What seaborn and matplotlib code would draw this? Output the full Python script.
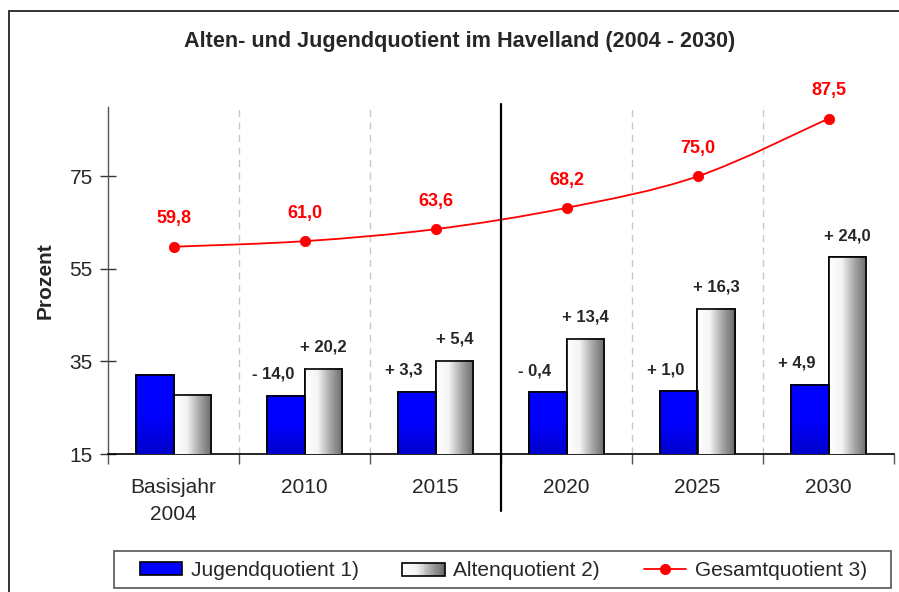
import numpy as np
import pandas as pd
import matplotlib
matplotlib.use('Agg')
import matplotlib.pyplot as plt
import seaborn as sns
from matplotlib.colors import LinearSegmentedColormap
from matplotlib.patches import Rectangle, PathPatch, Patch
from matplotlib.path import Path
from matplotlib.lines import Line2D
from matplotlib.legend_handler import HandlerBase
import matplotlib.transforms as mtransforms


# Data
categories = ['Basisjahr\n2004', '2010', '2015', '2020', '2025', '2030']
jugend = [32.0, 27.6, 28.4, 28.3, 28.6, 30.0]
alten = [27.8, 33.4, 35.2, 39.9, 46.4, 57.5]
gesamt = [59.8, 61.0, 63.6, 68.2, 75.0, 87.5]
jugend_change = [None, '- 14,0', '+ 3,3', '- 0,4', '+ 1,0', '+ 4,9']
alten_change = [None, '+ 20,2', '+ 5,4', '+ 13,4', '+ 16,3', '+ 24,0']
y_ticks = [15, 35, 55, 75]

W, H = 899, 592

sns.set_style('white')
plt.rcParams['font.family'] = ['Liberation Sans', 'DejaVu Sans']

fig = plt.figure(figsize=(W / 100, H / 100), dpi=100)
ax = fig.add_axes([108 / W, (H - 454) / H, (894 - 108) / W, (454 - 107) / H])

df = pd.DataFrame({
    'Jahr': categories * 2,
    'Quotient': ['Jugend'] * 6 + ['Alten'] * 6,
    'Wert': jugend + alten,
})

sns.barplot(data=df, x='Jahr', y='Wert', hue='Quotient', order=categories,
            hue_order=['Jugend', 'Alten'], palette=['#0000ff', '#bbbbbb'],
            width=0.58, gap=0, edgecolor='black', linewidth=1.2,
            legend=False, ax=ax, zorder=3)

ax.set_xlim(-0.5, 5.5)
ax.set_ylim(15, 90)

# gradient fills for the bars
grey_cmap = LinearSegmentedColormap.from_list('grey', ['#ffffff', '#f4f4f4', '#a8a8a8', '#6a6a6a'])
blue_cmap = LinearSegmentedColormap.from_list('blue', ['#0000cc', '#0000ff', '#0000ff'])
n = len(categories)
for i, bar in enumerate(ax.patches[:2 * n]):
    x0, w, h = bar.get_x(), bar.get_width(), bar.get_height()
    if i < n:
        grad = np.linspace(0, 1, 64).reshape(-1, 1)
        ax.imshow(grad, cmap=blue_cmap, origin='lower', aspect='auto',
                  extent=[x0, x0 + w, 15, h], zorder=3.5)
    else:
        grad = np.linspace(0, 1, 64).reshape(1, -1)
        ax.imshow(grad, cmap=grey_cmap, aspect='auto',
                  extent=[x0, x0 + w, 15, h], zorder=3.5)
    # outline on top of the gradient
    ax.add_patch(Rectangle((x0, 0), w, h, fill=False, edgecolor='black',
                           linewidth=1.2, zorder=4))
ax.set_xlim(-0.5, 5.5)
ax.set_ylim(15, 90)

# smoothed Gesamtquotient line (Catmull-Rom as cubic Bezier)
xs = np.arange(n, dtype=float)
pts = np.column_stack([xs, gesamt])
verts = [pts[0]]
codes = [Path.MOVETO]
for i in range(n - 1):
    p0 = pts[max(i - 1, 0)]
    p1 = pts[i]
    p2 = pts[i + 1]
    p3 = pts[min(i + 2, n - 1)]
    verts += [p1 + (p2 - p0) / 6, p2 - (p3 - p1) / 6, p2]
    codes += [Path.CURVE4] * 3
ax.add_patch(PathPatch(Path(verts, codes), fill=False, edgecolor='red',
                       linewidth=1.3, zorder=5))
sns.scatterplot(x=xs, y=gesamt, color='red', s=55, edgecolor='red', ax=ax, zorder=6)

for x, v in zip(xs, gesamt):
    ax.annotate(f'{v:.1f}'.replace('.', ','), (x, v), xytext=(0, 20),
                textcoords='offset points', ha='center', va='center',
                color='red', fontsize=13, fontweight='bold')

for i in range(n):
    if jugend_change[i]:
        ax.annotate(jugend_change[i], (i - 0.145, jugend[i]), xytext=(-9, 15.5),
                    textcoords='offset points', ha='center', va='center',
                    fontsize=12, fontweight='bold')
    if alten_change[i]:
        ax.annotate(alten_change[i], (i + 0.145, alten[i]), xytext=(0, 15.5),
                    textcoords='offset points', ha='center', va='center',
                    fontsize=12, fontweight='bold')

# category separators
for b in [0.5, 1.5, 3.5, 4.5]:
    ax.axvline(b, color='#c8c8c8', linestyle=(0, (5, 4)), linewidth=1, zorder=1)
trans = mtransforms.blended_transform_factory(ax.transData, ax.transAxes)
ax.plot([2.5, 2.5], [1.01, -0.165], color='black', linewidth=1.6,
        transform=trans, clip_on=False, zorder=6)

# axes styling
for side in ['top', 'right']:
    ax.spines[side].set_visible(False)
ax.spines['left'].set_color('#555555')
ax.spines['bottom'].set_color('black')
ax.spines['left'].set_linewidth(1)
ax.spines['bottom'].set_linewidth(1.2)

ax.set_yticks(y_ticks)
ax.tick_params(axis='y', direction='inout', length=12, width=1, color='#333333',
               labelsize=15, pad=5, left=True)
ax.set_xticks(np.arange(-0.5, 6, 1.0))
ax.set_xticklabels([])
ax.tick_params(axis='x', which='major', direction='out', length=7, width=1,
               color='#555555', bottom=True)
ax.set_xticks(xs, minor=True)
ax.set_xticklabels(categories, minor=True, fontsize=15, linespacing=1.55)
ax.tick_params(axis='x', which='minor', length=0, pad=17)
ax.set_xlabel('')
ax.set_ylabel('')

fig.text(45 / W, 1 - 281 / H, 'Prozent', rotation=90, ha='center', va='center',
         fontsize=15, fontweight='bold')
fig.text(460 / W, 1 - 42 / H, 'Alten- und Jugendquotient im Havelland (2004 - 2030)',
         ha='center', va='center', fontsize=15.6, fontweight='bold')

# outer chart frame
fig.add_artist(Line2D([9 / W, 1.0], [1 - 11 / H, 1 - 11 / H], color='#333333', linewidth=1.4))
fig.add_artist(Line2D([9 / W, 9 / W], [0.0, 1 - 11 / H], color='#333333', linewidth=1.4))

# legend
fig.add_artist(Rectangle((114 / W, 1 - 588 / H), (891 - 114) / W, 37 / H,
                         transform=fig.transFigure, fill=False,
                         edgecolor='#555555', linewidth=1.2))


class GradientHandler(HandlerBase):
    def create_artists(self, legend, orig_handle, xdescent, ydescent, width,
                       height, fontsize, trans):
        artists = []
        steps = 24
        for k in range(steps):
            c = grey_cmap(k / (steps - 1))
            artists.append(Rectangle((xdescent + width * k / steps, ydescent),
                                     width / steps + 0.3, height, facecolor=c,
                                     edgecolor='none', transform=trans))
        artists.append(Rectangle((xdescent, ydescent), width, height, fill=False,
                                 edgecolor='black', linewidth=1.2, transform=trans))
        return artists


h_jugend = Patch(facecolor='#0000ff', edgecolor='black', linewidth=1.2)
h_alten = Patch(facecolor='#bbbbbb')
h_gesamt = Line2D([], [], color='red', marker='o', markersize=7, linewidth=1.3)
fig.legend([h_jugend, h_alten, h_gesamt],
           ['Jugendquotient 1)', 'Altenquotient 2)', 'Gesamtquotient 3)'],
           handler_map={h_alten: GradientHandler()},
           loc='center left', bbox_to_anchor=(125 / W, 1 - 570 / H), ncol=3,
           frameon=False, fontsize=15, handlelength=2.05, handleheight=0.6,
           handletextpad=0.4, columnspacing=2.1, borderpad=0.2)

fig.savefig('out.png', dpi=100)
